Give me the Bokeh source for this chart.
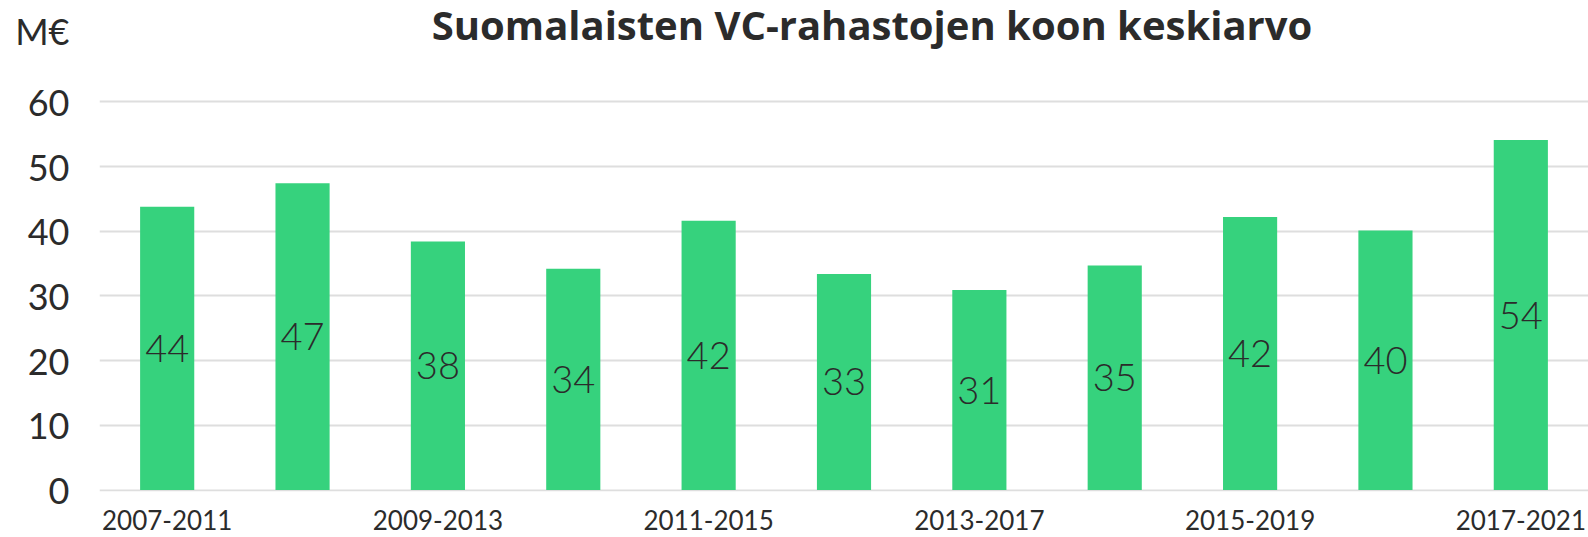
from bokeh.plotting import figure
from bokeh.models import ColumnDataSource, Range1d, FactorRange, FixedTicker, Label, CustomJSTickFormatter
from bokeh.core.properties import value
from bokeh.embed import file_html
from bokeh.resources import INLINE

# ---- data ----
periods = ["2007-2011", "2008-2012", "2009-2013", "2010-2014", "2011-2015", "2012-2016",
           "2013-2017", "2014-2018", "2015-2019", "2016-2020", "2017-2021"]
fund_size = [43.8, 47.4, 38.4, 34.2, 41.6, 33.4, 30.9, 34.7, 42.2, 40.1, 54.1]
bar_labels = ["44", "47", "38", "34", "42", "33", "31", "35", "42", "40", "54"]
y_ticks = [0, 10, 20, 30, 40, 50, 60]
title_text = "Suomalaisten VC-rahastojen koon keskiarvo"
unit_text = "M€"

FONT = "Lato"
LIGHT = "'Lato Light', Lato"
TITLE_FONT = "Open Sans"
BAR = "#36D27D"
TXT = "#2b2b2b"

UNIT_POS = 71.0      # where the unit text sits on the value scale (above the plot)
TITLE_POS = 72.0

src = ColumnDataSource(dict(
    period=periods,
    size=fund_size,
    mid=[v / 2 for v in fund_size],
    label=bar_labels,
))

p = figure(
    width=1588, height=537,
    x_range=FactorRange(factors=periods, range_padding=0),
    y_range=Range1d(-0.23, 75.66),
    output_backend="svg", toolbar_location=None,
    min_border_left=99, min_border_right=0, min_border_top=0, min_border_bottom=46,
)
p.outline_line_color = None
p.background_fill_color = "white"
p.border_fill_color = "white"

p.vbar(x="period", top="size", bottom=0, width=0.4, source=src, color=BAR, line_color=None)
p.text(x="period", y="mid", text="label", source=src,
       text_align="center", text_baseline="middle",
       text_font=value(LIGHT), text_font_size="38px", text_color=TXT)

# axes
p.yaxis.ticker = FixedTicker(ticks=y_ticks + [UNIT_POS])
p.yaxis.major_label_overrides = {UNIT_POS: unit_text}
p.yaxis.axis_line_color = None
p.yaxis.major_tick_line_color = None
p.yaxis.major_tick_out = 0
p.yaxis.major_tick_in = 0
p.yaxis.minor_tick_line_color = None
p.yaxis.major_label_text_font = FONT
p.yaxis.major_label_text_font_size = "36px"
p.yaxis.major_label_text_color = TXT
p.yaxis.major_label_standoff = 30

p.xaxis.axis_line_color = None
p.xaxis.major_tick_line_color = None
p.xaxis.major_label_text_font = FONT
p.xaxis.major_label_text_font_size = "26px"
p.xaxis.major_label_text_color = TXT
p.xaxis.major_label_standoff = 12
p.xaxis.formatter = CustomJSTickFormatter(code="return (index % 2 == 0) ? tick : '';")

p.xgrid.grid_line_color = None
p.ygrid.ticker = FixedTicker(ticks=y_ticks)
p.ygrid.grid_line_color = "#dedede"
p.ygrid.grid_line_width = 2

# title inside the (tall) frame, above the 60 line
p.add_layout(Label(x=5.707, y=TITLE_POS, text=title_text,
                   text_align="center", text_baseline="alphabetic", text_font=TITLE_FONT,
                   text_font_style="bold", text_font_size="40px", text_color=TXT))

open("out.html", "w").write(file_html(p, INLINE))
